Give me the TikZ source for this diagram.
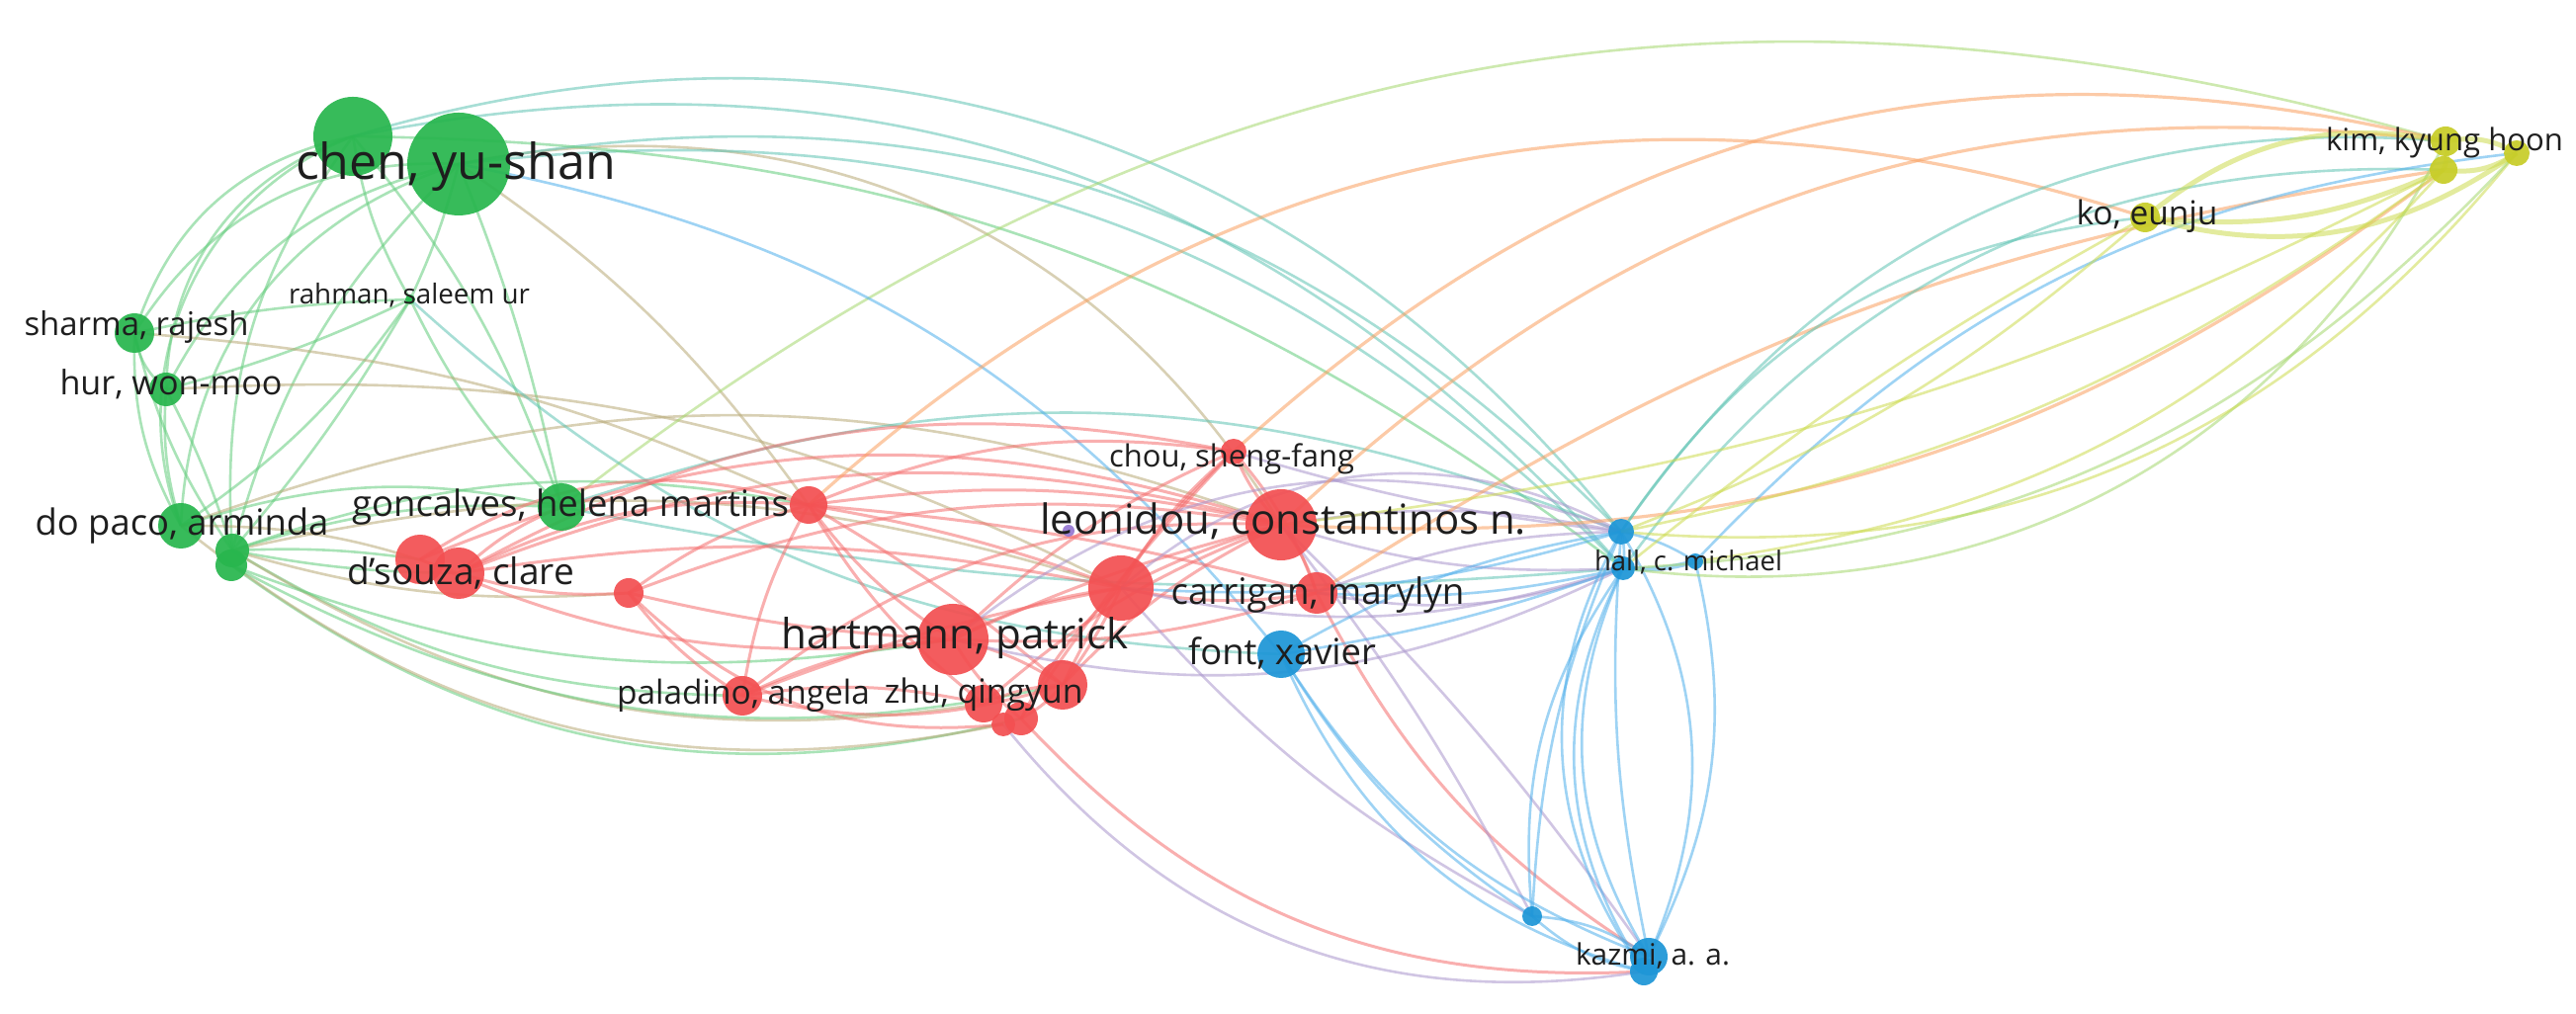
\documentclass[tikz,border=0pt]{standalone}
\usepackage{fontspec}
\setmainfont{Open Sans}
\usepackage{graphicx}
\definecolor{gcol}{RGB}{40,182,78}
\definecolor{rcol}{RGB}{243,80,82}
\definecolor{bcol}{RGB}{30,150,215}
\definecolor{ycol}{RGB}{200,205,40}
\definecolor{pcol}{RGB}{150,120,210}
\definecolor{txt}{RGB}{30,30,30}
\definecolor{gedge}{RGB}{100,205,125}
\definecolor{redge}{RGB}{245,110,110}
\definecolor{bedge}{RGB}{80,175,235}
\definecolor{yedge}{RGB}{205,220,80}
\definecolor{oedge}{RGB}{250,160,95}
\definecolor{tedge}{RGB}{95,195,180}
\definecolor{pedge}{RGB}{170,150,205}
\definecolor{olive}{RGB}{185,170,120}
\definecolor{lime}{RGB}{165,215,110}
\newcommand{\lbw}[2]{\resizebox{\dimexpr #1pt/10\relax}{!}{#2}}
\tikzset{
  nd/.style={circle, inner sep=0pt, minimum size={#1*0.1pt}, fill opacity=0.93},
  gn/.style={nd=#1, fill=gcol},
  rn/.style={nd=#1, fill=rcol},
  bn/.style={nd=#1, fill=bcol},
  yn/.style={nd=#1, fill=ycol},
  pn/.style={nd=#1, fill=pcol},
  lbl/.style={anchor=base, inner sep=0pt, text=txt},
  ed/.style={line width=0.26pt, draw opacity=0.55},
  ge/.style={ed, draw=gedge},
  re/.style={ed, draw=redge, line width=0.3pt},
  be/.style={ed, draw=bedge},
  ye/.style={ed, draw=yedge},
  oe/.style={ed, draw=oedge, line width=0.32pt},
  te/.style={ed, draw=tedge},
  pe/.style={ed, draw=pedge},
  ole/.style={ed, draw=olive},
  le/.style={ed, draw=lime},
  thick ed/.style={line width=0.5pt}
}
\begin{document}
\begin{tikzpicture}[x=0.1pt,y=0.1pt]
\useasboundingbox (0,0) rectangle (2606,-1026);
\fill[white] (0,0) rectangle (2606,-1026);
% ---------- node positions ----------
\coordinate (G1) at (357,-138);
\coordinate (chen) at (464,-166);
\coordinate (sharma) at (136,-337);
\coordinate (hur) at (168,-394);
\coordinate (rahman) at (415,-303);
\coordinate (dopaco) at (183,-532);
\coordinate (G3) at (235,-557);
\coordinate (G4) at (234,-572);
\coordinate (gonc) at (568,-513);
\coordinate (R1) at (818,-511);
\coordinate (dsA) at (425,-566);
\coordinate (dsB) at (464,-580);
\coordinate (R2) at (636,-600);
\coordinate (pal) at (751,-704);
\coordinate (hart) at (964,-647);
\coordinate (R3) at (1134,-595);
\coordinate (leon) at (1296,-531);
\coordinate (purp) at (1081,-537);
\coordinate (chou) at (1248,-457);
\coordinate (carr) at (1332,-600);
\coordinate (font) at (1296,-662);
\coordinate (R4) at (1075,-693);
\coordinate (zhuA) at (995,-712);
\coordinate (zhuB) at (1033,-727);
\coordinate (zhuC) at (1015,-733);
\coordinate (hallA) at (1640,-538);
\coordinate (hallB) at (1642,-575);
\coordinate (hallC) at (1715,-568);
\coordinate (B5) at (1550,-927);
\coordinate (kazA) at (1668,-968);
\coordinate (kazB) at (1663,-983);
\coordinate (kimA) at (2474,-143);
\coordinate (kimB) at (2472,-172);
\coordinate (kimC) at (2546,-155);
\coordinate (ko) at (2170,-220);
% ---------- edges: green ----------
\draw[ge] (G1) to[bend right=30] (sharma);
\draw[ge] (chen) to[bend right=30] (sharma);
\draw[ge] (G1) to[bend right=35] (hur);
\draw[ge] (chen) to[bend right=25] (hur);
\draw[ge] (G1) to[bend right=45] (dopaco);
\draw[ge] (chen) to[bend right=35] (dopaco);
\draw[ge] (G1) to[bend right=20] (G3);
\draw[ge] (chen) to[bend right=15] (G3);
\draw[ge] (sharma) to[bend right=20] (hur);
\draw[ge] (sharma) to[bend right=15] (dopaco);
\draw[ge] (sharma) to[bend right=10] (G3);
\draw[ge] (hur) to[bend right=10] (dopaco);
\draw[ge] (hur) to[bend left=5] (G3);
\draw[ge] (rahman) to[bend right=5] (sharma);
\draw[ge] (rahman) to[bend left=5] (hur);
\draw[ge] (rahman) to[bend left=10] (dopaco);
\draw[ge] (rahman) to[bend left=5] (G3);
\draw[ge] (rahman) to[bend left=10] (G1);
\draw[ge] (rahman) to[bend right=5] (chen);
\draw[ge] (rahman) to[bend right=10] (gonc);
\draw[ge] (G1) to[bend left=10] (gonc);
\draw[ge] (chen) to[bend left=5] (gonc);
\draw[ole] (chen) to[bend left=10] (R1);
\draw[ole] (chen) to[bend left=35] (leon);
\draw[ge] (dopaco) to[bend left=15] (gonc);
\draw[ge] (G3) to[bend left=10] (gonc);
\draw[ge] (G3) to[bend left=5] (dsA);
\draw[ge] (G3) to[bend right=5] (dsB);
\draw[ole] (dopaco) to[bend left=10] (dsB);
\draw[ole] (G3) to[bend right=10] (R2);
\draw[ge] (G3) to[bend right=15] (pal);
\draw[ole] (G3) to[bend right=20] (zhuA);
\draw[ge] (G4) to[bend right=25] (zhuB);
\draw[ole] (dopaco) to[bend right=25] (zhuC);
\draw[ge] (G4) to[bend right=15] (hart);
\draw[ge] (G4) to[bend right=20] (R4);
\draw[ole] (dopaco) to[bend left=20] (leon);
\draw[ole] (G3) to[bend left=15] (R3);
\draw[ge] (G3) to[bend left=15] (R1);
\draw[ole] (sharma) to[bend left=10] (R1);
\draw[ole] (hur) to[bend left=15] (R3);
\draw[te] (chen) to[bend left=28] (hallA);
\draw[te] (G1) to[bend left=34] (hallA);
\draw[te] (chen) to[bend left=26] (hallB);
\draw[te] (G1) to[bend left=30] (hallB);
\draw[ge] (G1) to[bend left=18] (hallB);
\draw[le] (gonc) to[bend left=27] (kimA);
\draw[te] (rahman) to[bend right=20] (font);
\draw[te] (gonc) to[bend right=8] (hallB);
\draw[te] (gonc) to[bend left=20] (hallA);
\draw[be] (chen) to[bend left=20] (font);
% ---------- edges: red ----------
\draw[re] (dsB) to[bend left=10] (gonc);
\draw[re] (dsA) to[bend left=25] (R1);
\draw[re] (dsB) to[bend left=15] (R1);
\draw[re] (dsB) to[bend right=10] (R2);
\draw[re] (dsA) to[bend right=15] (hart);
\draw[re] (dsB) to[bend left=10] (R3);
\draw[re] (dsA) to[bend left=20] (leon);
\draw[re] (dsB) to[bend left=18] (leon);
\draw[re] (dsB) to[bend left=20] (chou);
\draw[re] (R1) to[bend right=10] (hart);
\draw[re] (R1) to[bend left=5] (R3);
\draw[re] (R1) to[bend left=10] (leon);
\draw[re] (R1) to[bend left=15] (chou);
\draw[re] (R1) to[bend left=5] (carr);
\draw[re] (R1) to[bend right=10] (zhuA);
\draw[re] (R1) to[bend right=10] (pal);
\draw[re] (R1) to[bend right=10] (R2);
\draw[re] (R1) to[bend left=5] (R4);
\draw[re] (R2) to[bend right=10] (pal);
\draw[re] (R2) to[bend left=15] (leon);
\draw[re] (R2) to[bend right=5] (hart);
\draw[re] (R2) to[bend right=25] (zhuC);
\draw[re] (pal) to[bend left=10] (zhuA);
\draw[re] (pal) to[bend left=10] (hart);
\draw[re] (pal) to[bend right=15] (R4);
\draw[re] (pal) to[bend left=20] (leon);
\draw[re] (pal) to[bend left=5] (R3);
\draw[re] (hart) to[bend left=10] (R3);
\draw[re] (hart) to[bend left=5] (leon);
\draw[re] (hart) to[bend left=10] (chou);
\draw[re] (hart) to[bend right=10] (carr);
\draw[re] (hart) to[bend right=10] (zhuB);
\draw[re] (hart) to[bend left=10] (R4);
\draw[re] (R3) to[bend left=5] (leon);
\draw[re] (R3) to[bend right=10] (carr);
\draw[re] (R3) to[bend left=10] (chou);
\draw[re] (R3) to[bend right=10] (zhuB);
\draw[re] (R3) to[bend left=5] (R4);
\draw[re] (leon) to[bend left=10] (chou);
\draw[re] (leon) to[bend left=10] (carr);
\draw[re] (leon) to[bend right=10] (R4);
\draw[re] (leon) to[bend right=10] (zhuA);
\draw[re] (chou) to[bend right=10] (R4);
\draw[re] (chou) to[bend right=5] (zhuB);
\draw[re] (chou) to[bend left=10] (carr);
\draw[re] (zhuA) to[bend left=10] (R4);
\draw[re] (zhuB) to[bend right=10] (R4);
\draw[re] (zhuB) to[bend right=25] (kazB);
\draw[pe] (zhuC) to[bend right=30] (kazB);
\draw[pe] (leon) to[bend left=5] (kazA);
\draw[re] (carr) to[bend right=15] (kazA);
\draw[pe] (R3) to[bend right=10] (B5);
\draw[pe] (leon) to[bend left=5] (B5);
\draw[pe] (leon) to[bend left=10] (hallA);
\draw[pe] (leon) to[bend right=10] (hallB);
\draw[pe] (carr) to[bend left=10] (hallA);
\draw[pe] (R3) to[bend right=15] (hallB);
\draw[pe] (R3) to[bend left=35] (hallA);
\draw[pe] (hart) to[bend left=30] (hallA);
\draw[pe] (chou) to[bend right=5] (hallA);
\draw[pe] (carr) to[bend right=15] (hallB);
\draw[pe] (hart) to[bend right=20] (hallB);
\draw[oe] (R1) to[bend left=30] (ko);
\draw[oe] (chou) to[bend left=28] (kimA);
\draw[oe] (leon) to[bend left=25] (kimA);
\draw[oe] (carr) to[bend left=12] (kimB);
\draw[oe] (leon) to[bend right=20] (kimB);
% ---------- edges: blue ----------
\draw[be] (hallA) to[bend left=10] (hallB);
\draw[be] (hallA) to[bend left=10] (hallC);
\draw[be, line width=0.5pt] (hallB) to[bend right=10] (hallC);
\draw[be] (hallA) to[bend left=27] (kazA);
\draw[be] (hallC) to[bend left=20] (kazA);
\draw[be] (hallB) to[bend right=28] (kazA);
\draw[be] (hallA) to[bend right=33] (kazB);
\draw[be] (hallB) to[bend right=30] (kazB);
\draw[be] (hallA) to[bend right=8] (kazA);
\draw[be] (hallA) to[bend right=10] (B5);
\draw[be] (hallB) to[bend right=20] (B5);
\draw[be] (font) to[bend right=18] (kazA);
\draw[be] (font) to[bend right=25] (kazB);
\draw[be] (font) to[bend right=12] (B5);
\draw[be] (font) to[bend left=10] (hallA);
\draw[be] (font) to[bend right=5] (hallB);
\draw[be] (B5) to[bend left=15] (kazA);
\draw[be] (B5) to[bend right=15] (kazB);
\draw[be] (hallA) to[bend left=10] (R3);
\draw[be] (hallB) to[bend left=8] (carr);
\draw[te] (hallA) to[bend left=30] (kimA);
\draw[te] (hallB) to[bend left=28] (kimB);
\draw[te] (hallA) to[bend left=25] (ko);
\draw[be] (hallC) to[bend left=20] (kimC);
% ---------- edges: yellow ----------
\draw[ye, thick ed] (kimA) to[bend left=15] (kimB);
\draw[ye, thick ed] (kimA) to[bend left=20] (kimC);
\draw[ye, thick ed] (kimB) to[bend right=20] (kimC);
\draw[ye, thick ed] (ko) to[bend left=25] (kimA);
\draw[ye, thick ed] (ko) to[bend right=15] (kimB);
\draw[ye, thick ed] (ko) to[bend right=25] (kimC);
\draw[le] (kimA) to[bend left=35] (hallB);
\draw[ye] (kimC) to[bend left=28] (hallA);
\draw[ye] (kimB) to[bend left=20] (hallC);
\draw[le] (kimC) to[bend left=22] (hallB);
\draw[ye] (kimB) to[bend left=12] (hallA);
\draw[ye] (kimB) to[bend left=10] (leon);
\draw[ye] (ko) to[bend left=10] (hallA);
\draw[ye] (ko) to[bend right=5] (hallB);
% ---------- nodes ----------
\node[gn=80] (nG1) at (G1) {};
\node[gn=104] (nchen) at (chen) {};
\node[gn=40] (nsharma) at (sharma) {};
\node[gn=34] (nhur) at (hur) {};
\node[gn=10] (nrahman) at (rahman) {};
\node[gn=46] (ndopaco) at (dopaco) {};
\node[gn=34] (nG3) at (G3) {};
\node[gn=32] (nG4) at (G4) {};
\node[gn=48] (ngonc) at (gonc) {};
\node[rn=38] (nR1) at (R1) {};
\node[rn=50] (ndsA) at (dsA) {};
\node[rn=52] (ndsB) at (dsB) {};
\node[rn=30] (nR2) at (R2) {};
\node[rn=40] (npal) at (pal) {};
\node[rn=72] (nhart) at (hart) {};
\node[rn=66] (nR3) at (R3) {};
\node[rn=72] (nleon) at (leon) {};
\node[pn=12] (npurp) at (purp) {};
\node[rn=26] (nchou) at (chou) {};
\node[rn=42] (ncarr) at (carr) {};
\node[rn=50] (nR4) at (R4) {};
\node[rn=38] (nzhuA) at (zhuA) {};
\node[rn=24] (nzhuC) at (zhuC) {};
\node[rn=34] (nzhuB) at (zhuB) {};
\node[bn=48] (nfont) at (font) {};
\node[bn=26] (nhallA) at (hallA) {};
\node[bn=24] (nhallB) at (hallB) {};
\node[bn=16] (nhallC) at (hallC) {};
\node[bn=20] (nB5) at (B5) {};
\node[bn=38] (nkazA) at (kazA) {};
\node[bn=28] (nkazB) at (kazB) {};
\node[yn=30] (nkimA) at (kimA) {};
\node[yn=28] (nkimB) at (kimB) {};
\node[yn=26] (nkimC) at (kimC) {};
\node[yn=30] (nko) at (ko) {};
% ---------- labels ----------
\node[lbl] (lchen) at (461,-182) {\lbw{324}{chen, yu-shan}};
\node[lbl] (lsharma) at (138,-340) {\lbw{227}{sharma, rajesh}};
\node[lbl] (lhur) at (173,-400) {\lbw{225}{hur, won-moo}};
\node[lbl] (lrahman) at (414,-308) {\lbw{244}{rahman, saleem ur}};
\node[lbl] (ldopaco) at (184,-542) {\lbw{297}{do paco, arminda}};
\node[lbl] (lgonc) at (577,-523) {\lbw{442}{goncalves, helena martins}};
\node[lbl] (ldsouza) at (466,-592) {\lbw{230}{d'souza, clare}};
\node[lbl] (lpal) at (752,-713) {\lbw{256}{paladino, angela}};
\node[lbl] (lhart) at (966,-657) {\lbw{351}{hartmann, patrick}};
\node[lbl] (lleon) at (1298,-541) {\lbw{492}{leonidou, constantinos n.}};
\node[lbl] (lchou) at (1246,-473) {\lbw{248}{chou, sheng-fang}};
\node[lbl] (lcarr) at (1333,-612) {\lbw{297}{carrigan, marylyn}};
\node[lbl] (lfont) at (1297,-673) {\lbw{190}{font, xavier}};
\node[lbl] (lzhu) at (995,-712) {\lbw{201}{zhu, qingyun}};
\node[lbl] (lhall) at (1708,-578) {\lbw{190}{hall, c. michael}};
\node[lbl] (lkazmi) at (1672,-977) {\lbw{156}{kazmi, a. a.}};
\node[lbl] (lkim) at (2473,-153) {\lbw{240}{kim, kyung hoon}};
\node[lbl] (lko) at (2172,-228) {\lbw{143}{ko, eunju}};
\end{tikzpicture}
\end{document}
